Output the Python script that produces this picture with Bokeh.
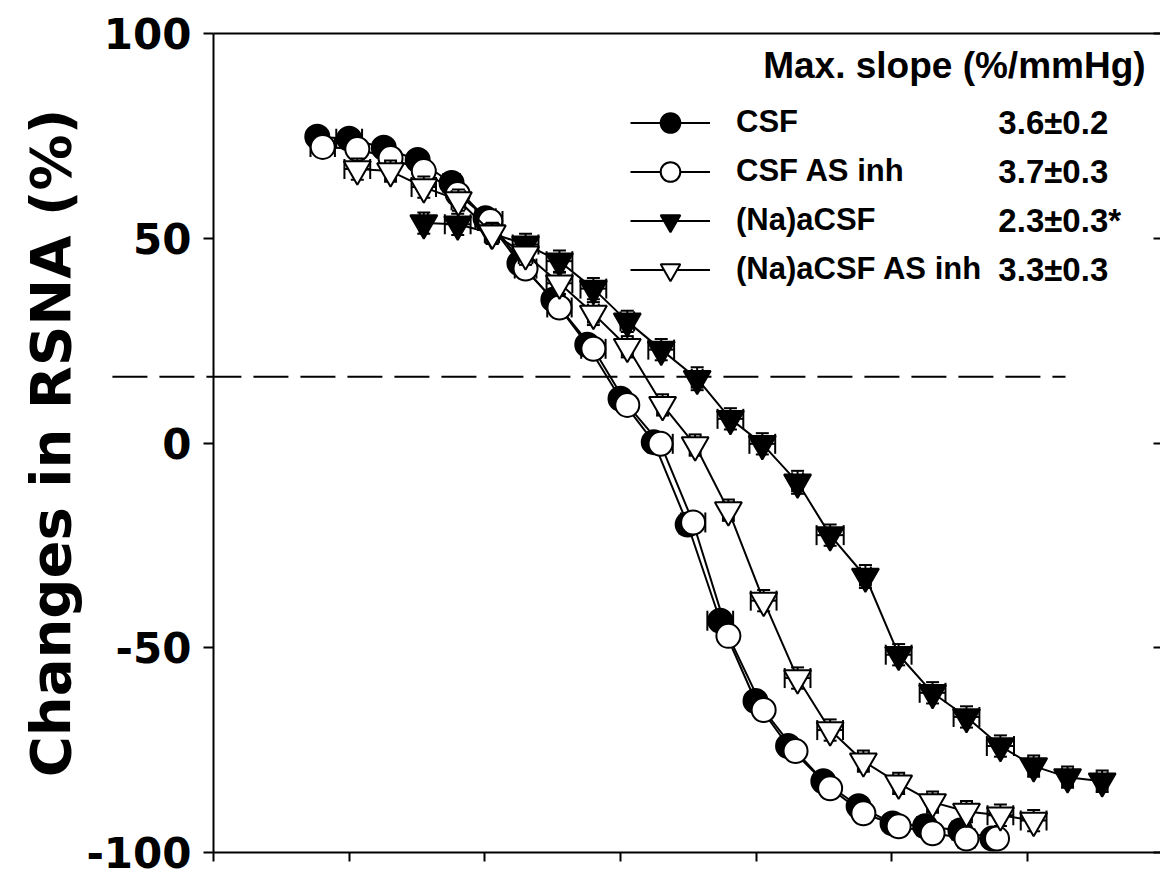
import numpy as np
from bokeh.plotting import figure
from bokeh.models import (ColumnDataSource, Whisker, TeeHead, LinearAxis, FixedTicker,
                          Range1d, Legend, LegendItem, Label)
from bokeh.embed import file_html
from bokeh.resources import INLINE

# ---------------- data (x: mean arterial pressure, mmHg; y: change in RSNA, %) -------------
csf_x = [55.3, 60.0, 65.1, 70.1, 75.1, 80.1, 85.1, 90.1, 95.1, 100.0, 104.9, 109.9, 114.7,
         119.9, 124.7, 129.9, 135.1, 140.1, 144.9, 150.1, 154.8]
csf_y = [74.8, 74.3, 72.1, 69.1, 63.5, 54.9, 43.9, 35.0, 24.0, 10.8, 0.2, -19.9, -43.4,
         -63.0, -74.0, -82.6, -88.7, -92.9, -93.6, -94.6, -96.6]
csf_xe = [1.0, 1.9, 1.0, 1.0, 1.2, 1.5, 1.0, 1.0, 1.0, 1.0, 1.0, 1.2, 1.9, 1.0, 1.0, 1.0,
          1.0, 1.0, 1.2, 1.2, 1.0]
csf_ye = [1.5, 1.5, 1.6, 1.5, 1.8, 2.0, 2.0, 2.0, 2.0, 2.0, 2.2, 2.0, 2.0, 2.0, 1.8, 1.6,
          1.5, 1.5, 1.5, 1.5, 1.4]

asinh_x = [56.1, 61.2, 66.1, 71.0, 76.0, 80.8, 86.0, 91.0, 96.0, 101.0, 105.9, 110.7, 115.9,
           121.1, 125.8, 130.9, 135.8, 141.0, 146.0, 151.0, 155.5]
asinh_y = [72.3, 71.8, 69.6, 66.4, 60.8, 54.2, 42.6, 33.1, 23.0, 9.3, -0.2, -19.4, -47.1,
           -65.2, -75.2, -84.3, -90.4, -93.6, -95.3, -96.6, -96.6]
asinh_xe = [1.8, 1.0, 1.0, 1.0, 1.0, 1.8, 1.6, 1.8, 1.8, 1.0, 1.8, 1.8, 1.0, 1.0, 1.0, 1.0,
            1.0, 1.0, 1.0, 1.2, 1.0]
asinh_ye = [1.5, 1.5, 1.5, 1.6, 1.8, 2.0, 2.0, 2.0, 2.0, 2.0, 2.0, 2.0, 2.0, 2.0, 1.8, 1.6,
            1.5, 1.5, 1.5, 1.5, 1.4]

na_x = [71.0, 76.0, 81.0, 86.0, 91.0, 96.0, 101.0, 106.0, 111.3, 116.2, 120.9, 126.1, 130.9,
        136.1, 141.0, 146.0, 151.0, 156.0, 160.9, 165.9, 171.0]
na_y = [53.7, 53.4, 51.2, 48.5, 44.4, 37.7, 29.7, 22.8, 15.7, 5.9, -0.2, -9.6, -22.5,
        -32.6, -51.7, -61.0, -66.9, -74.0, -78.9, -81.6, -82.6]
na_xe = [0.6, 1.9, 1.0, 1.9, 1.9, 1.9, 1.0, 1.9, 0.8, 1.9, 1.9, 0.8, 2.0, 0.8, 1.9, 1.9,
         1.9, 2.0, 0.8, 0.8, 0.8]
na_ye = [2.6, 2.6, 2.4, 2.6, 2.6, 2.6, 2.6, 2.6, 2.8, 2.6, 2.6, 2.8, 2.6, 2.8, 2.6, 2.6,
         2.6, 2.6, 2.6, 2.6, 2.6]

naas_x = [61.2, 66.1, 71.0, 76.1, 81.1, 86.0, 91.0, 96.0, 101.0, 106.2, 111.0, 115.9, 121.1,
          126.1, 130.9, 135.8, 141.0, 146.0, 151.0, 156.0, 160.9]
naas_y = [66.9, 66.4, 62.5, 59.3, 51.2, 46.1, 39.0, 31.6, 23.5, 9.3, -0.5, -16.4, -38.5,
          -57.4, -70.1, -77.7, -83.1, -87.7, -90.0, -90.9, -92.2]
naas_xe = [1.9, 0.8, 1.8, 1.0, 1.0, 1.0, 1.9, 0.8, 0.8, 0.8, 0.8, 0.8, 1.9, 1.9, 1.9, 0.8,
           0.8, 0.8, 0.8, 1.9, 1.9]
naas_ye = [2.6, 2.6, 2.6, 2.6, 2.6, 2.6, 2.6, 2.8, 2.6, 2.6, 2.6, 2.6, 2.6, 2.6, 2.6, 2.6,
           2.6, 2.6, 2.6, 2.6, 2.6]

series_names = ["CSF", "CSF AS inh", "(Na)aCSF", "(Na)aCSF AS inh"]
max_slopes = ["3.6\u00b10.2", "3.7\u00b10.3", "2.3\u00b10.3*", "3.3\u00b10.3"]
legend_title = "Max. slope (%/mmHg)"
y_label = "Changes in RSNA (%)"
y_ticks = [-100, -50, 0, 50, 100]
x_ticks = [40, 60, 80, 100, 120, 140, 160, 180]
ref_level = 16.2          # dashed reference line (% change)
ref_x = [25.1, 165.6]     # its horizontal extent (starts left of the y axis)

# ---------------- figure -------------
p = figure(width=1160, height=877, x_range=Range1d(40, 179.6), y_range=Range1d(-100, 100),
           output_backend="svg", toolbar_location=None,
           min_border_left=213, min_border_right=0, min_border_top=33, min_border_bottom=25,
           outline_line_color=None, background_fill_color="white", border_fill_color="white")
p.xgrid.visible = False
p.ygrid.visible = False

AX_FONT = "DejaVu Sans"
LG_FONT = "Liberation Sans"

yax = p.yaxis[0]
yax.ticker = FixedTicker(ticks=y_ticks)
yax.major_label_overrides = {t: str(t) for t in y_ticks}
yax.major_label_text_font = AX_FONT
yax.major_label_text_font_style = "bold"
yax.major_label_text_font_size = "42px"
yax.major_label_text_color = "black"
yax.major_label_standoff = 12
yax.major_tick_out = 10
yax.major_tick_in = 0
yax.major_tick_line_width = 2
yax.axis_line_width = 2
yax.minor_tick_line_color = None
yax.axis_label = y_label
yax.axis_label_text_font = AX_FONT
yax.axis_label_text_font_style = "bold"
yax.axis_label_text_font_size = "56px"
yax.axis_label_text_color = "black"
yax.axis_label_standoff = 0

# bottom axis: tick marks only (its labels are outside the picture)
xax = p.xaxis[0]
xax.ticker = FixedTicker(ticks=[], minor_ticks=x_ticks)
xax.minor_tick_out = 9
xax.minor_tick_in = 0
xax.minor_tick_line_width = 2
xax.minor_tick_line_color = "black"
xax.axis_line_width = 2

top = LinearAxis(ticker=FixedTicker(ticks=[], minor_ticks=[]), major_tick_line_color=None,
                 minor_tick_line_color=None, axis_line_width=2)
p.add_layout(top, "above")
right = LinearAxis(ticker=FixedTicker(ticks=[], minor_ticks=y_ticks), minor_tick_in=7,
                   minor_tick_out=0, minor_tick_line_width=2, minor_tick_line_color="black",
                   axis_line_color=None)
p.add_layout(right, "right")

# dashed reference line
p.line(ref_x, [ref_level, ref_level], line_color="black", line_width=2, line_dash="35 12",
       level="overlay")

def add_series(x, y, xe, ye, marker, fill, size):
    x = np.array(x); y = np.array(y); xe = np.array(xe); ye = np.array(ye)
    src = ColumnDataSource(dict(x=x, y=y, xl=x - xe, xu=x + xe, yl=y - ye, yu=y + ye))
    wx = Whisker(base="y", lower="xl", upper="xu", dimension="width", source=src,
                 level="glyph", line_color="black", line_width=2,
                 upper_head=TeeHead(size=20, line_width=2, line_color="black"),
                 lower_head=TeeHead(size=20, line_width=2, line_color="black"))
    wy = Whisker(base="x", lower="yl", upper="yu", dimension="height", source=src,
                 level="glyph", line_color="black", line_width=2,
                 upper_head=TeeHead(size=13, line_width=2, line_color="black"),
                 lower_head=TeeHead(size=13, line_width=2, line_color="black"))
    p.renderers.append(wx)
    p.renderers.append(wy)
    lr = p.line("x", "y", source=src, line_color="black", line_width=2)
    sr = p.scatter("x", "y", source=src, marker=marker, size=size, fill_color=fill,
                   line_color="black", line_width=2)
    return lr, sr

r1 = add_series(csf_x, csf_y, csf_xe, csf_ye, "circle", "black", 24)
r2 = add_series(asinh_x, asinh_y, asinh_xe, asinh_ye, "circle", "white", 24)
r3 = add_series(na_x, na_y, na_xe, na_ye, "inverted_triangle", "black", 27)
r4 = add_series(naas_x, naas_y, naas_xe, naas_ye, "inverted_triangle", "white", 27)

legend = Legend(items=[LegendItem(label=n, renderers=list(r)) for n, r in
                       zip(series_names, [r1, r2, r3, r4])],
                location=(417, 558.5), glyph_width=80, glyph_height=49, spacing=0,
                padding=0, margin=0, label_standoff=26, label_height=49,
                label_text_font=LG_FONT, label_text_font_style="bold",
                label_text_font_size="31px", label_text_color="black",
                border_line_color=None, background_fill_alpha=0)
p.add_layout(legend, "center")

val_x = 155.7
row_y = [78.3, 66.3, 54.4, 42.4]
for txt, yy in zip(max_slopes, row_y):
    p.add_layout(Label(x=val_x, y=yy, text=txt, text_font=LG_FONT, text_font_style="bold",
                       text_font_size="33px", text_baseline="middle", text_color="black"))
p.add_layout(Label(x=177.4, y=92.2, text=legend_title, text_font=LG_FONT,
                   text_font_style="bold", text_font_size="37px", text_align="right",
                   text_baseline="middle", text_color="black"))

open("out.html", "w").write(file_html(p, INLINE))
